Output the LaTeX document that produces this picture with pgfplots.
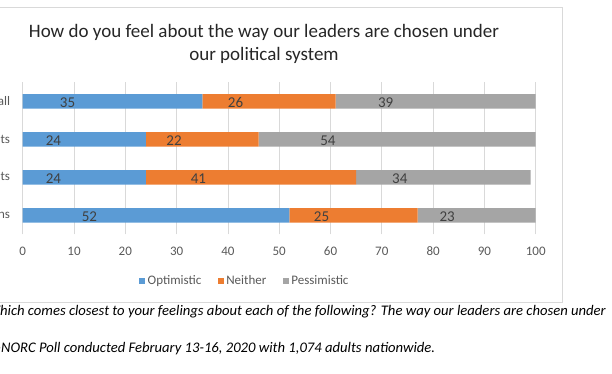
\documentclass[border=0pt]{standalone}
\usepackage{fontspec}
\setmainfont{Carlito}
\usepackage{pgfplots}
\pgfplotsset{compat=1.18}
\definecolor{cblue}{HTML}{5B9BD5}
\definecolor{corange}{HTML}{ED7D31}
\definecolor{cgray}{HTML}{A5A5A5}
\definecolor{txt}{HTML}{595959}
\definecolor{lbl}{HTML}{404040}
\definecolor{gridc}{HTML}{D9D9D9}
\begin{document}
\begin{tikzpicture}
\useasboundingbox (0,0) rectangle (612bp,374bp);
\draw[gridc, line width=0.75bp] (-5bp,367bp) rectangle (562bp,71.5bp);
\node[anchor=base, inner sep=0pt, text=black!85, font=\fontsize{19bp}{23bp}\selectfont] at (264bp,336bp) {How do you feel about the way our leaders are chosen under};
\node[anchor=base, inner sep=0pt, text=black!85, font=\fontsize{19bp}{23bp}\selectfont] at (264bp,313bp) {our political system};
\begin{axis}[
  at={(22.7bp,139.5bp)}, anchor=south west,
  scale only axis, width=513bp, height=152bp,
  xbar stacked, bar width=14.5bp,
  xmin=0, xmax=100, ymin=-0.5, ymax=3.5,
  xtick={0,10,...,100},
  ytick={0,1,2,3},
  yticklabels={Republicans,Independents,Democrats,Overall},
  axis line style={draw=none},
  major tick length=0pt,
  xmajorgrids, grid style={gridc, line width=0.75bp},
  /pgf/number format/assume math mode=true,
  tick label style={font=\fontsize{13bp}{15bp}\selectfont, text=txt, inner sep=0pt},
  xticklabel style={anchor=north, yshift=-12bp},
  yticklabel style={anchor=east, xshift=-12.5bp},
  visualization depends on=rawx \as \rawx,
  nodes near coords={\makebox[0pt]{\pgfmathprintnumber{\rawx}}},
  every node near coord/.append style={font=\fontsize{15bp}{17bp}\selectfont, text=lbl, inner sep=0pt, xshift={-\rawx*1.2825bp}, yshift=-0.8bp},
  legend columns=3,
  legend style={draw=none, fill=none, at={(0.4335,-0.306)}, anchor=center,
    font=\fontsize{13bp}{15bp}\selectfont, text=txt,
    /tikz/every even column/.append style={column sep=14bp},
    nodes={inner xsep=2.5bp}},
  legend image code/.code={\fill[#1] (0bp,-3bp) rectangle (6bp,3bp);},
]
\addplot[fill=cblue, draw=none] coordinates {(52,0) (24,1) (24,2) (35,3)};
\addplot[fill=corange, draw=none] coordinates {(25,0) (41,1) (22,2) (26,3)};
\addplot[fill=cgray, draw=none] coordinates {(23,0) (34,1) (54,2) (39,3)};
\legend{Optimistic,Neither,Pessimistic}
\end{axis}
\node[anchor=base east, inner sep=0pt, font=\fontsize{14.65bp}{17bp}\selectfont\itshape] at (606bp,58bp) {Which comes closest to your feelings about each of the following? The way our leaders are chosen under};
\node[anchor=base east, inner sep=0pt, font=\fontsize{14.65bp}{17bp}\selectfont\itshape] (ap) at (1bp,22bp) {AP-};
\node[anchor=base west, inner sep=0pt, font=\fontsize{14.65bp}{17bp}\selectfont\itshape] at (ap.base east) {NORC Poll conducted February 13-16, 2020 with 1,074 adults nationwide.};
\end{tikzpicture}
\end{document}
